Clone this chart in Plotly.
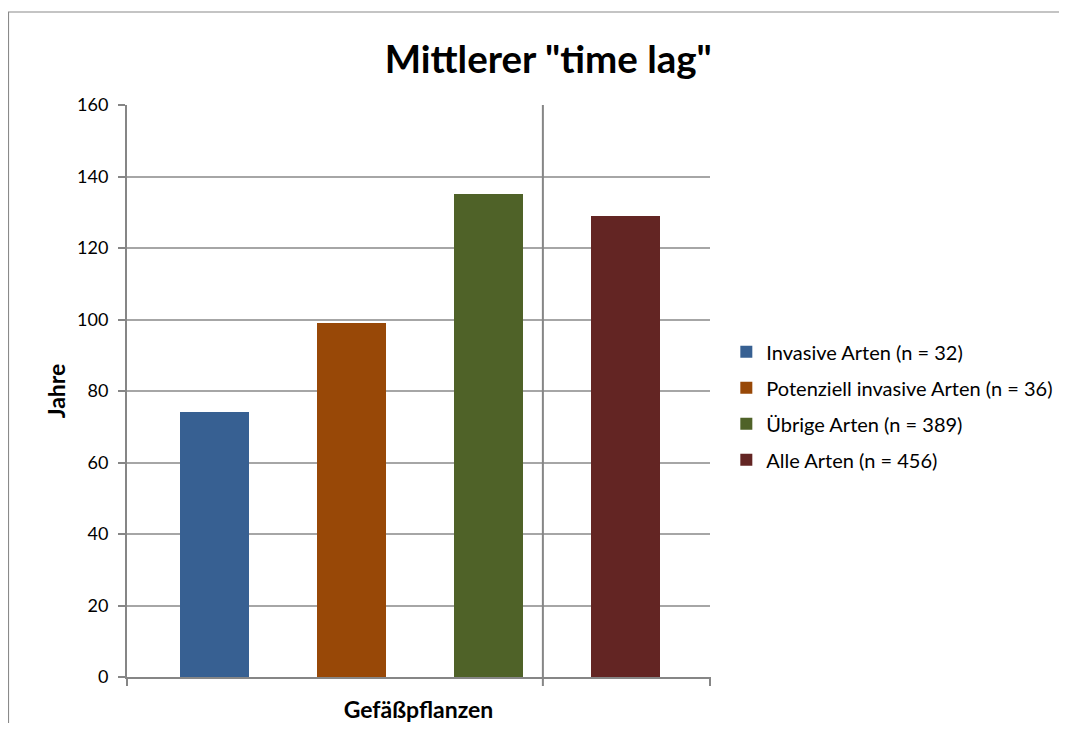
import plotly.graph_objects as go

series_names = [
    "Invasive Arten (n = 32)",
    "Potenziell invasive Arten (n = 36)",
    "Übrige Arten (n = 389)",
    "Alle Arten (n = 456)",
]
series_values = [74, 99, 135, 129]
series_colors = ["#376092", "#984807", "#4F6228", "#632523"]
category_label = "Gefäßpflanzen"
y_ticks = [0, 20, 40, 60, 80, 100, 120, 140, 160]

FONT = "Lato, Carlito, Calibri, sans-serif"

fig = go.Figure()
for i, (name, val, col) in enumerate(zip(series_names, series_values, series_colors)):
    fig.add_trace(
        go.Bar(
            x=[i],
            y=[val],
            name=name,
            marker=dict(color=col, line=dict(width=0)),
            width=0.504,
            legendgroup=name,
        )
    )

axis_col = "#868686"
grid_col = "#a6a6a6"
shapes = [
    # separator gridline between the groups
    dict(type="line", xref="x", yref="paper", x0=2.397, x1=2.397, y0=-0.0157, y1=1,
         line=dict(color=axis_col, width=2)),
    # outer ticks at plot edges
    dict(type="line", xref="paper", yref="paper", x0=0, x1=0, y0=-0.0157, y1=0,
         line=dict(color=axis_col, width=2)),
    dict(type="line", xref="paper", yref="paper", x0=1, x1=1, y0=-0.0157, y1=0,
         line=dict(color=axis_col, width=2)),
    # chart frame
    dict(type="rect", xref="paper", yref="paper", x0=-0.2033, x1=1.7, y0=-0.2, y1=1.1626,
         line=dict(color="#8a8a8a", width=1.2), fillcolor="rgba(0,0,0,0)", layer="below"),
]

fig.update_layout(
    width=1051,
    height=715,
    margin=dict(l=119, r=349, t=97, b=46, pad=0, autoexpand=False),
    paper_bgcolor="white",
    plot_bgcolor="white",
    font=dict(family=FONT, size=18, color="black"),
    title=dict(
        text='<b>Mittlerer "time lag"</b>',
        x=0.514,
        xanchor="center",
        y=1 - 52 / 715,
        yanchor="middle",
        font=dict(family=FONT, size=38.5, color="black"),
    ),
    xaxis=dict(
        range=[-0.639, 3.617],
        showticklabels=False,
        showgrid=False,
        zeroline=False,
        showline=True,
        linecolor=axis_col,
        linewidth=2,
        ticks="",
        automargin=False,
        title=dict(text=f"<b>{category_label}</b>", font=dict(family=FONT, size=23), standoff=27),
        fixedrange=True,
    ),
    yaxis=dict(
        range=[0, 160],
        tickvals=y_ticks,
        showgrid=True,
        gridcolor=grid_col,
        gridwidth=1.5,
        zeroline=False,
        showline=True,
        linecolor=axis_col,
        linewidth=2,
        ticks="outside",
        ticklen=7,
        tickwidth=1.5,
        tickcolor=axis_col,
        ticklabelstandoff=6,
        automargin=False,
        tickfont=dict(family=FONT, size=18),
        title=dict(text="<b>Jahre</b>", font=dict(family=FONT, size=23), standoff=5),
    ),
    legend=dict(
        x=1.028,
        y=0.474,
        xanchor="left",
        yanchor="middle",
        traceorder="grouped",
        tracegroupgap=7,
        font=dict(family=FONT, size=20),
        itemwidth=30,
        bgcolor="rgba(0,0,0,0)",
    ),
    bargap=0,
    shapes=shapes,
)

fig.write_html("out.html")
